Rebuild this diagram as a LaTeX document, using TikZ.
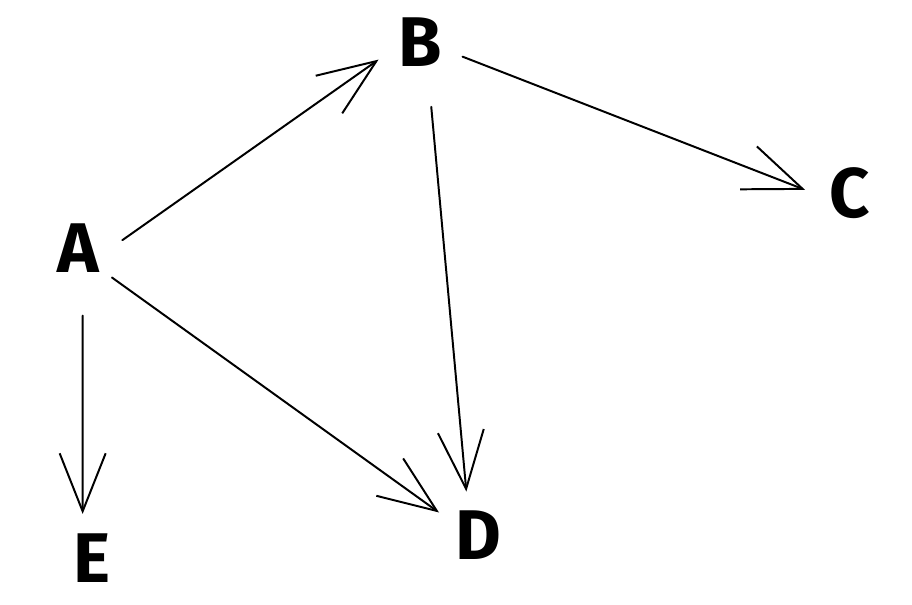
\documentclass[tikz,border=0pt]{standalone}
\usepackage{fontspec}
\newfontfamily\letterfont{Fira Sans}
\usetikzlibrary{arrows.meta}
\begin{document}
\begin{tikzpicture}[x=0.025cm,y=-0.025cm,line cap=round,line join=round,
  >={Straight Barb[length=1.45cm,width=1.15cm,line width=1.4pt]},
  letter/.style={circle,minimum size=2.25cm,inner sep=0pt,outer sep=0pt,
    font=\letterfont\bfseries\fontsize{50}{50}\selectfont}]
\useasboundingbox (0,0) rectangle (912,604);
\node[letter] (A) at (78,248) {A};
\node[letter] (B) at (420,42) {B};
\node[letter] (C) at (850,193) {C};
\node[letter] (D) at (478,535) {D};
\node[letter] (E) at (92,558) {E};
\draw[line width=1.4pt,->] (A.10)--(B.203);
\draw[line width=1.4pt,->] (B.-19)--(C.176);
\draw[line width=1.4pt,->,shorten <=0.52cm] (B.-78)--(D.105);
\draw[line width=1.4pt,->] (A.-41)--(D.150);
\draw[line width=1.4pt,->,shorten <=0.57cm] (A.-84)--(E.102);
\end{tikzpicture}
\end{document}
